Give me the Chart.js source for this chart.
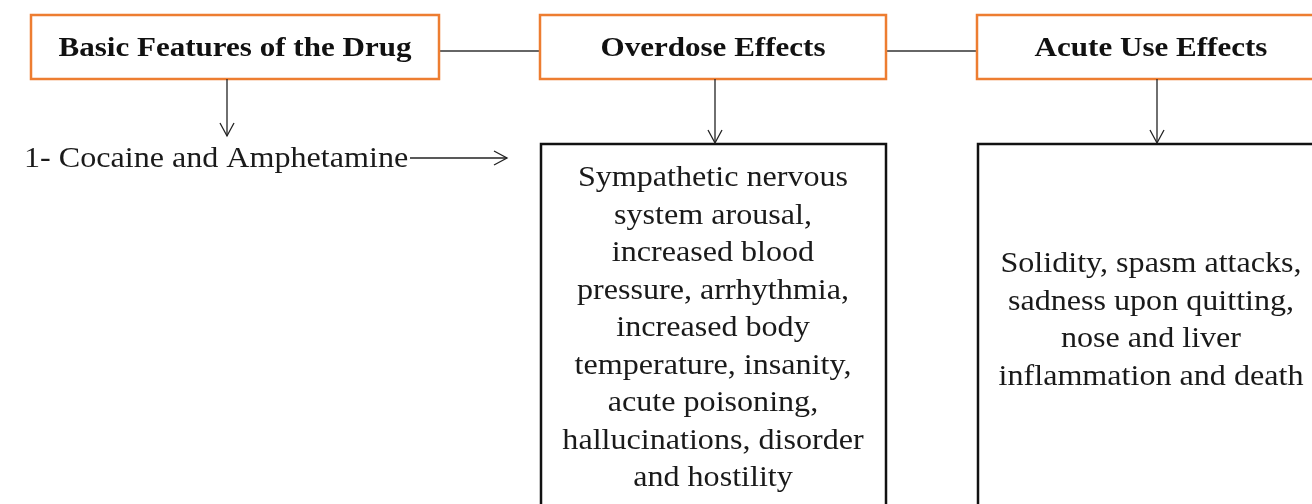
<!DOCTYPE html>
<html><head><meta charset="utf-8">
<script src="https://cdn.jsdelivr.net/npm/chart.js@4"></script>
<style>html,body{margin:0;padding:0;background:#fff}#wrap{width:1312px;height:504px}</style>
</head><body><div id="wrap"><canvas id="c" width="1312" height="504"></canvas></div>
<script>
// Text content
const headers = ["Basic Features of the Drug", "Overdose Effects", "Acute Use Effects"];
const drugItems = ["1- Cocaine and Amphetamine"];
const overdoseLines = ["Sympathetic nervous", "system arousal,", "increased blood", "pressure, arrhythmia,", "increased body", "temperature, insanity,", "acute poisoning,", "hallucinations, disorder", "and hostility"];
const acuteLines = ["Solidity, spasm attacks,", "sadness upon quitting,", "nose and liver", "inflammation and death"];

// Layout (in scale units, 0..1312 x, 0..504 y)
const headerBoxes = [[31,15,439,79],[540,15,886,79],[977,15,1330,79]];
const bodyBoxes = [null,[541,144,886,520],[978,144,1330,520]];
const ORANGE = "#ED7D31";

const diagram = {
  id: 'diagram',
  afterDraw(chart) {
    const ctx = chart.ctx, xs = chart.scales.x, ys = chart.scales.y;
    const X = v => xs.getPixelForValue(v), Y = v => ys.getPixelForValue(v);
    ctx.save();
    function line(x1,y1,x2,y2,w,c){ctx.beginPath();ctx.strokeStyle=c;ctx.lineWidth=w;ctx.moveTo(X(x1),Y(y1));ctx.lineTo(X(x2),Y(y2));ctx.stroke();}
    function arrowDown(x,y1,y2){line(x,y1,x,y2,1.3,"#222");ctx.beginPath();ctx.moveTo(X(x-7),Y(y2-13));ctx.lineTo(X(x),Y(y2));ctx.lineTo(X(x+7),Y(y2-13));ctx.stroke();}
    function arrowRight(x1,x2,y){line(x1,y,x2,y,1.3,"#222");ctx.beginPath();ctx.moveTo(X(x2-13),Y(y-7));ctx.lineTo(X(x2),Y(y));ctx.lineTo(X(x2-13),Y(y+7));ctx.stroke();}
    function text(t,x,y,sx){ctx.save();ctx.translate(X(x),Y(y));ctx.scale(sx,1);ctx.fillText(t,0,0);ctx.restore();}
    // connectors
    line(439,51,540,51,1.3,"#333");
    line(886,51,977,51,1.3,"#333");
    // header boxes
    headerBoxes.forEach((b,i)=>{
      ctx.strokeStyle=ORANGE;ctx.lineWidth=2.5;
      ctx.strokeRect(X(b[0]),Y(b[1]),X(b[2])-X(b[0]),Y(b[3])-Y(b[1]));
      ctx.fillStyle="#111";ctx.font="bold 27px 'Liberation Serif', 'Times New Roman', serif";
      ctx.textAlign="center";ctx.textBaseline="alphabetic";
      const cx = i===2 ? 1151 : (b[0]+b[2])/2;
      text(headers[i], cx, 56, 1.15);
    });
    // body boxes
    bodyBoxes.forEach(b=>{ if(!b) return;
      ctx.strokeStyle="#111";ctx.lineWidth=2.5;
      ctx.strokeRect(X(b[0]),Y(b[1]),X(b[2])-X(b[0]),Y(b[3])-Y(b[1]));
    });
    arrowDown(227,79,136);
    arrowDown(715,79,143);
    arrowDown(1157,79,143);
    arrowRight(410,507,158);
    ctx.font="30px 'Liberation Serif', 'Times New Roman', serif";
    ctx.fillStyle="#1a1a1a";
    ctx.textAlign="left";ctx.textBaseline="alphabetic";
    drugItems.forEach((t,i)=>text(t,24,167+i*37.5,1.07));
    ctx.textAlign="center";
    overdoseLines.forEach((t,i)=>text(t,713,186+i*37.5,1.07));
    acuteLines.forEach((t,i)=>text(t,1151,272+i*37.5,1.07));
    ctx.restore();
  }
};

new Chart(document.getElementById('c'), {
  type: 'scatter',
  data: { datasets: [{ data: [], pointRadius: 0 }] },
  options: {
    responsive: false, animation: false,
    layout: { padding: 0 },
    plugins: { legend: { display: false }, tooltip: { enabled: false } },
    scales: {
      x: { type: 'linear', min: 0, max: 1312, display: false },
      y: { type: 'linear', min: 0, max: 504, reverse: true, display: false }
    }
  },
  plugins: [diagram]
});
</script></body></html>
